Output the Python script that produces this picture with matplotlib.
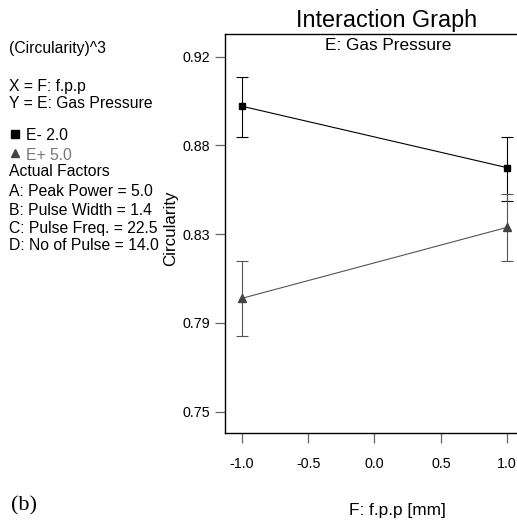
import numpy as np
import matplotlib
matplotlib.use("Agg")
import matplotlib.pyplot as plt
from matplotlib.lines import Line2D

plt.rcParams['font.family'] = ['Liberation Sans', 'DejaVu Sans']

# donnees (circularite, echelle (Circularity)^3)
fpp = [-1.0, 1.0]
e_moins = [0.9000, 0.8738]
e_moins_haut = [0.9120, 0.8871]
e_moins_bas = [0.8871, 0.8591]
e_plus = [0.8122, 0.8468]
e_plus_haut = [0.8306, 0.8623]
e_plus_bas = [0.7928, 0.8308]

ytick_labels = ['0.75', '0.79', '0.83', '0.88', '0.92']
xtick_vals = [-1.0, -0.5, 0.0, 0.5, 1.0]
xtick_labels = ['-1.0', '-0.5', '0.0', '0.5', '1.0']

W, H = 517, 522
fig = plt.figure(figsize=(W / 100, H / 100), dpi=100)
ax = fig.add_axes([225 / W, 1 - 433.3 / H, (523.9 - 225) / W, (433.3 - 34.3) / H])
ax.set_yscale('function', functions=(lambda y: np.sign(y) * np.abs(y) ** 3, np.cbrt))

gris = '#555555'

def err(m, h, b):
    m = np.array(m)
    return [m - np.array(b), np.array(h) - m]

ax.errorbar(fpp, e_moins, yerr=err(e_moins, e_moins_haut, e_moins_bas), color='black',
            lw=0.8, marker='s', ms=4.5, capsize=4.5, elinewidth=0.8, capthick=0.8)
ax.errorbar(fpp, e_plus, yerr=err(e_plus, e_plus_haut, e_plus_bas), color=gris,
            lw=0.8, marker='^', ms=5.5, capsize=4.5, elinewidth=0.8, capthick=0.8,
            markerfacecolor='#444444', markeredgecolor='#444444')

ax.set_xlim(-1.1258, 1.1258)
ax.set_ylim(0.7369, 0.9288)
yt = np.cbrt(np.linspace(0.75 ** 3, 0.92 ** 3, 5))
ax.set_yticks(yt)
ax.set_yticklabels(ytick_labels)
ax.yaxis.set_minor_locator(matplotlib.ticker.NullLocator())
ax.set_xticks(xtick_vals)
ax.set_xticklabels(xtick_labels)
ax.tick_params(direction='out', length=7, width=0.9, colors='#666666', labelcolor='black',
               labelsize=10.3, pad=4)
ax.tick_params(axis='x', pad=10)
for s in ['top', 'left', 'bottom']:
    ax.spines[s].set_linewidth(1.0)
ax.spines['right'].set_visible(False)

def px(x, y):
    return x / W, 1 - y / H

fig.text(*px(387, 20), 'Interaction Graph', fontsize=16.8, ha='center', va='center')
fig.text(*px(388, 46), 'E: Gas Pressure', fontsize=12.4, ha='center', va='center')
fig.text(*px(171, 228), 'Circularity', fontsize=12.2, rotation=90, ha='center', va='center')
fig.text(*px(397, 510), 'F: f.p.p [mm]', fontsize=12.4, ha='center', va='center')
fig.text(*px(11, 506), '(b)', fontsize=16, ha='left', va='center', family='Liberation Serif')

lignes = [
    (48, '(Circularity)^3', 'black'),
    (87, 'X = F: f.p.p', 'black'),
    (103, 'Y = E: Gas Pressure', 'black'),
    (172, 'Actual Factors', 'black'),
    (191, 'A: Peak Power = 5.0', 'black'),
    (210, 'B: Pulse Width = 1.4', 'black'),
    (228, 'C: Pulse Freq. = 22.5', 'black'),
    (246, 'D: No of Pulse = 14.0', 'black'),
]
for y, t, c in lignes:
    fig.text(*px(9, y), t, fontsize=11.3, ha='left', va='center', color=c)

# petits symboles de la legende
x0, y0 = px(15, 134)
fig.add_artist(Line2D([x0], [y0], marker='s', ms=5.5, color='black', transform=fig.transFigure))
x1, y1 = px(15, 153)
fig.add_artist(Line2D([x1], [y1], marker='^', ms=6, color='#444444', transform=fig.transFigure))
fig.text(*px(26, 136), 'E- 2.0', fontsize=11.3, ha='left', va='center', color='black')
fig.text(*px(26, 155), 'E+ 5.0', fontsize=11.3, ha='left', va='center', color='#777777')

fig.savefig('out.png', dpi=100)
